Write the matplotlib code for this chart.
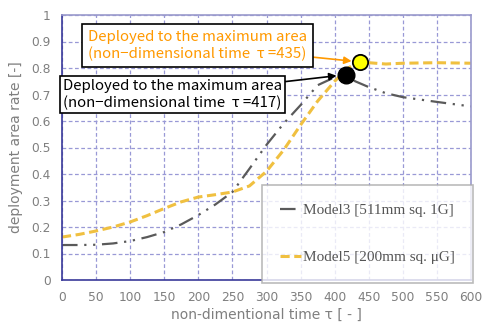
import matplotlib.pyplot as plt
import numpy as np

tau3 = [0, 25, 50, 75, 100, 125, 150, 175, 200, 225, 250, 275, 300, 325, 350, 375, 400, 417, 430, 450, 475, 500, 550, 600]
rate3 = [0.132, 0.132, 0.133, 0.138, 0.147, 0.162, 0.181, 0.21, 0.245, 0.285, 0.332, 0.42, 0.51, 0.59, 0.66, 0.735, 0.765, 0.775, 0.75, 0.728, 0.705, 0.69, 0.672, 0.655]

tau5 = [0, 25, 50, 75, 100, 125, 150, 175, 200, 225, 250, 275, 300, 325, 350, 375, 400, 420, 435, 450, 475, 500, 550, 600]
rate5 = [0.162, 0.172, 0.185, 0.2, 0.219, 0.243, 0.27, 0.295, 0.313, 0.322, 0.332, 0.355, 0.41, 0.49, 0.585, 0.675, 0.75, 0.8, 0.823, 0.82, 0.815, 0.818, 0.82, 0.818]

label3 = 'Model3 [511mm sq. 1G]'
label5 = 'Model5 [200mm sq. μG]'

max3 = (417, 0.775)
max5 = (437, 0.823)

xticks = np.arange(0, 601, 50)
yticks = [0, 0.1, 0.2, 0.3, 0.4, 0.5, 0.6, 0.7, 0.8, 0.9, 1]

gray = '#7f7f7f'
blue = '#3a3a9a'

fig = plt.figure(figsize=(4.83, 3.27), dpi=100, facecolor='w')
ax = fig.add_axes([62/483, 1-280/327, (471-62)/483, (280-15)/327])

l3, = ax.plot(tau3, rate3, color='#5a5a5a', lw=1.6, ls=(0, (7, 3, 1, 3, 1, 3)), label=label3)
l5, = ax.plot(tau5, rate5, color='#f0c040', lw=2.2, ls=(0, (3, 1.5)), label=label5)

ax.plot(*max3, 'o', color='k', ms=12, zorder=5)
ax.plot(*max5, 'o', mfc='#ffff00', mec='k', mew=1.3, ms=11, zorder=5)

ax.set_xlim(0, 600)
ax.set_ylim(0, 1)
ax.set_xticks(xticks)
ax.set_yticks(yticks)
ax.set_yticklabels(['0', '0.1', '0.2', '0.3', '0.4', '0.5', '0.6', '0.7', '0.8', '0.9', '1'])
ax.grid(True, color='#9999d6', ls=(0, (3, 2)), lw=0.9)
ax.tick_params(axis='both', length=0, colors=gray, labelsize=8.8, pad=8)
for s in ax.spines.values():
    s.set_color('#9999cc')
    s.set_linewidth(1.2)
ax.spines['left'].set_color(blue)
ax.spines['bottom'].set_color(blue)
ax.set_xlabel('non-dimentional time τ [ - ]', color=gray, fontsize=10, labelpad=3)
ax.set_ylabel('deployment area rate [-]', color=gray, fontsize=10, labelpad=6)

jp = ['Noto Sans CJK JP', 'DejaVu Sans']
ax.annotate('Deployed to the maximum area\n(non−dimensional time  τ =435)',
            xy=max5, xytext=(38, 0.885), textcoords='data',
            color='#ff9900', fontsize=10.8, family=jp, linespacing=1.25,
            va='center', ha='left',
            bbox=dict(boxstyle='square,pad=0.38', fc='w', ec='k', lw=1.2),
            arrowprops=dict(arrowstyle='-|>', color='#ff9900', lw=1.2,
                            shrinkA=0, shrinkB=6))
ax.annotate('Deployed to the maximum area\n(non−dimensional time  τ =417)',
            xy=max3, xytext=(1, 0.7), textcoords='data',
            color='k', fontsize=10.8, family=jp, linespacing=1.2,
            va='center', ha='left',
            bbox=dict(boxstyle='square,pad=0.2', fc='w', ec='k', lw=1.2),
            arrowprops=dict(arrowstyle='-|>', color='k', lw=1.2,
                            shrinkA=0, shrinkB=7),
            annotation_clip=False)

leg = fig.legend(handles=[l3, l5], loc='center',
                 bbox_to_anchor=((258+477)/2/483, 1-(190+278)/2/327),
                 prop={'family': 'Liberation Serif', 'size': 11},
                 frameon=True, fancybox=False, edgecolor='#aaaaaa',
                 handlelength=1.4, handletextpad=0.1, labelspacing=2.2,
                 borderpad=1.2, borderaxespad=0)
leg.get_frame().set_linewidth(1.2)
for t in leg.get_texts():
    t.set_color('#555555')

fig.savefig('out.png', dpi=100)
